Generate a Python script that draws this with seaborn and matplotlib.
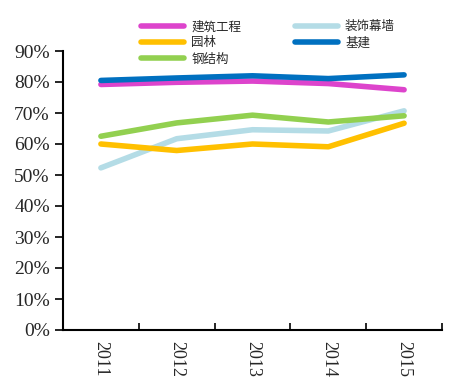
import matplotlib
matplotlib.use("Agg")
import matplotlib.pyplot as plt
import seaborn as sns
import pandas as pd
from matplotlib.ticker import PercentFormatter

years = ["2011", "2012", "2013", "2014", "2015"]
jianzhu = [0.792, 0.799, 0.803, 0.795, 0.775]   # 建筑工程
zhuangshi = [0.523, 0.617, 0.646, 0.642, 0.707]  # 装饰幕墙
yuanlin = [0.600, 0.579, 0.600, 0.591, 0.667]    # 园林
jijian = [0.805, 0.813, 0.820, 0.811, 0.823]     # 基建
gangjiegou = [0.625, 0.668, 0.693, 0.671, 0.691] # 钢结构

series = {"建筑工程": jianzhu, "装饰幕墙": zhuangshi, "园林": yuanlin,
          "基建": jijian, "钢结构": gangjiegou}
colors = {"建筑工程": "#DD44CC", "装饰幕墙": "#B4DCE6", "园林": "#FFC000",
          "基建": "#0070C0", "钢结构": "#92D050"}

rows = []
for name, vals in series.items():
    for i, (y, v) in enumerate(zip(years, vals)):
        rows.append({"idx": i, "year": y, "series": name, "value": v})
df = pd.DataFrame(rows)

sns.set_style("ticks")
plt.rcParams["font.family"] = ["Liberation Serif", "Noto Sans CJK SC"]

fig = plt.figure(figsize=(4.53, 3.91), dpi=100)
ax = fig.add_axes([63/453, 1-330/391, (442-63)/453, (330-51)/391])

sns.lineplot(data=df, x="idx", y="value", hue="series", palette=colors,
             hue_order=list(series.keys()), linewidth=4, ax=ax, legend=True,
             solid_capstyle="round")

ax.set_xlim(-0.5, 4.5)
ax.set_ylim(0, 0.9)
ax.set_yticks([i/10 for i in range(10)])
ax.yaxis.set_major_formatter(PercentFormatter(1.0, decimals=0))
ax.set_xticks([i + 0.5 for i in range(-1, 5)], minor=False)
ax.set_xticklabels([])
ax.set_xticks(range(5), minor=True)
ax.set_xticklabels(years, minor=True, rotation=-90, fontsize=13,
                   family="Liberation Serif")
ax.tick_params(axis="x", which="minor", bottom=False, length=0, pad=8)
ax.tick_params(axis="x", which="major", bottom=True, direction="in", length=5,
               width=1.2, color="black")
ax.tick_params(axis="y", left=True, direction="out", length=6, width=1.2,
               color="black", labelsize=14)
for lab in ax.get_yticklabels():
    lab.set_family("Liberation Serif")
ax.set_xlabel("")
ax.set_ylabel("")
for s in ["top", "right"]:
    ax.spines[s].set_visible(False)
for s in ["left", "bottom"]:
    ax.spines[s].set_color("black")
    ax.spines[s].set_linewidth(1.5)

handles, labels = ax.get_legend_handles_labels()
hmap = dict(zip(labels, handles))
order = ["建筑工程", "园林", "钢结构", "装饰幕墙", "基建"]
leg = ax.legend([hmap[k] for k in order], order, loc="upper left",
                bbox_to_anchor=(130/453, 1-9/391), bbox_transform=fig.transFigure,
                ncol=2, frameon=False, handlelength=3.4,
                handletextpad=0.6, columnspacing=4.3, labelspacing=0.25,
                prop={"family": ["Noto Sans CJK SC"], "size": 9})
for line in leg.get_lines():
    line.set_linewidth(4)

fig.savefig("out.png", dpi=100)
